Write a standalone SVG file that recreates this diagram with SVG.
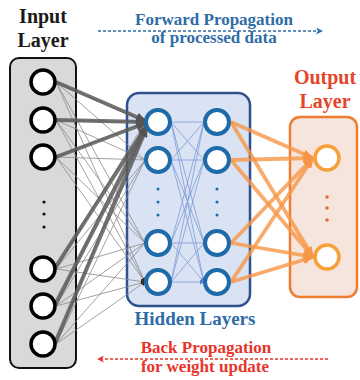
<svg xmlns="http://www.w3.org/2000/svg" width="360" height="380" viewBox="0 0 360 380">
<defs>
<style>
text{font-family:"Liberation Serif","Times New Roman",serif;font-weight:bold;text-anchor:middle}
.in{fill:#fff;stroke:#000;stroke-width:3.5}
.hn{fill:#fff;stroke:#1f6aa8;stroke-width:4}
.on{fill:#fff;stroke:#f7a03a;stroke-width:3.5}
.thin{stroke:#8a8a8a;stroke-width:0.8;fill:none;marker-end:url(#at)}
.thick{stroke:#5a5a5a;stroke-width:4;stroke-opacity:0.85;fill:none;marker-end:url(#ag)}
.blue{stroke:#7f9bd6;stroke-width:0.8;fill:none;marker-end:url(#ab)}
.or{stroke:#f79646;stroke-width:3.8;stroke-opacity:0.8;fill:none;marker-end:url(#ao)}
</style>
<marker id="ag" markerWidth="11" markerHeight="9" refX="10" refY="4.5" orient="auto" markerUnits="userSpaceOnUse"><path d="M0,0 L11,4.5 L0,9 z" fill="#555"/></marker>
<marker id="at" markerWidth="5" markerHeight="5" refX="4" refY="2.5" orient="auto" markerUnits="userSpaceOnUse"><path d="M0,0 L5,2.5 L0,5 z" fill="#333"/></marker>
<marker id="ab" markerWidth="5" markerHeight="5" refX="4" refY="2.5" orient="auto" markerUnits="userSpaceOnUse"><path d="M0,0 L5,2.5 L0,5 z" fill="#5b7fcf"/></marker>
<marker id="ao" markerWidth="11" markerHeight="9" refX="10" refY="4.5" orient="auto" markerUnits="userSpaceOnUse"><path d="M0,0 L11,4.5 L0,9 z" fill="#f79646"/></marker>
<marker id="afb" markerWidth="7" markerHeight="7" refX="6" refY="3.5" orient="auto" markerUnits="userSpaceOnUse"><path d="M0,0 L7,3.5 L0,7 L2,3.5 z" fill="#2e6ca6"/></marker>
<marker id="afr" markerWidth="7" markerHeight="7" refX="6" refY="3.5" orient="auto" markerUnits="userSpaceOnUse"><path d="M0,0 L7,3.5 L0,7 L2,3.5 z" fill="#e8342a"/></marker>
</defs>

<g id="titles">
<text x="214" y="25" font-size="17" fill="#2e6ca6">Forward Propagation</text>
<text x="214" y="43" font-size="17" fill="#2e6ca6">of processed data</text>
<text x="206" y="353" font-size="17" fill="#e8342a">Back Propagation</text>
<text x="205" y="372" font-size="17" fill="#e8342a">for weight update</text>
</g>

<g id="input-layer">
<rect x="10" y="58" width="66" height="310" rx="9" fill="#d9d9d9" stroke="#111" stroke-width="2"/>
<text x="43" y="23" font-size="20" fill="#1a1a1a">Input</text>
<text x="43" y="47" font-size="20" fill="#1a1a1a">Layer</text>
</g>

<g id="hidden-layer">
<rect x="127" y="93" width="123" height="213" rx="12" fill="#dae3f3" stroke="#2f528f" stroke-width="2.5"/>
<text x="195" y="325" font-size="19" fill="#2e6ca6">Hidden Layers</text>
</g>

<g id="output-layer">
<rect x="290" y="117" width="67" height="180" rx="10" fill="#f5e5dd" stroke="#ee7d31" stroke-width="2.5"/>
<text x="325" y="84" font-size="20" fill="#e4452a">Output</text>
<text x="325" y="108" font-size="20" fill="#e4452a">Layer</text>
</g>

<g id="connectors">
<line x1="98" y1="31" x2="322" y2="31" stroke="#2e6ca6" stroke-width="1.3" stroke-dasharray="3,2" marker-end="url(#afb)"/>
<line x1="328" y1="359" x2="98" y2="359" stroke="#e8342a" stroke-width="1.3" stroke-dasharray="3,2" marker-end="url(#afr)"/>
<path class="thin" d="M56,82 L145,122 M56,82 L145,160 M56,82 L145,243 M56,82 L145,282"/>
<path class="thin" d="M56,120 L145,122 M56,120 L145,160 M56,120 L145,243 M56,120 L145,282"/>
<path class="thin" d="M56,157 L145,122 M56,157 L145,160 M56,157 L145,243 M56,157 L145,282"/>
<path class="thin" d="M56,269 L145,122 M56,269 L145,160 M56,269 L145,243 M56,269 L145,282"/>
<path class="thin" d="M56,306 L145,122 M56,306 L145,160 M56,306 L145,243 M56,306 L145,282"/>
<path class="thin" d="M56,344 L145,122 M56,344 L145,160 M56,344 L145,243 M56,344 L145,282"/>
<line class="thick" x1="56" y1="82" x2="146" y2="121"/>
<line class="thick" x1="56" y1="120" x2="146" y2="122"/>
<line class="thick" x1="56" y1="157" x2="146" y2="123"/>
<line class="thick" x1="55" y1="268" x2="147" y2="125"/>
<line class="thick" x1="55" y1="305" x2="147" y2="126"/>
<line class="thick" x1="55" y1="343" x2="147" y2="127"/>
<path class="blue" d="M171,122 L204,122 M171,122 L204,160 M171,122 L204,243 M171,122 L204,282"/>
<path class="blue" d="M171,160 L204,122 M171,160 L204,160 M171,160 L204,243 M171,160 L204,282"/>
<path class="blue" d="M171,243 L204,122 M171,243 L204,160 M171,243 L204,243 M171,243 L204,282"/>
<path class="blue" d="M171,282 L204,122 M171,282 L204,160 M171,282 L204,243 M171,282 L204,282"/>
<line class="or" x1="231" y1="122" x2="313" y2="158"/>
<line class="or" x1="231" y1="160" x2="313" y2="158"/>
<line class="or" x1="231" y1="243" x2="313" y2="158"/>
<line class="or" x1="231" y1="282" x2="313" y2="158"/>
<line class="or" x1="231" y1="122" x2="313" y2="257"/>
<line class="or" x1="231" y1="160" x2="313" y2="257"/>
<line class="or" x1="231" y1="243" x2="313" y2="257"/>
<line class="or" x1="231" y1="282" x2="313" y2="257"/>
</g>

<g id="input-nodes">
<circle class="in" cx="43" cy="82" r="12"/>
<circle class="in" cx="43" cy="120" r="12"/>
<circle class="in" cx="43" cy="157" r="12"/>
<circle cx="44" cy="202" r="1.6" fill="#111"/>
<circle cx="44" cy="214" r="1.6" fill="#111"/>
<circle cx="44" cy="227" r="1.6" fill="#111"/>
<circle class="in" cx="43" cy="269" r="12"/>
<circle class="in" cx="43" cy="306" r="12"/>
<circle class="in" cx="43" cy="344" r="12"/>
</g>

<g id="hidden-nodes">
<circle class="hn" cx="158" cy="122" r="12"/>
<circle class="hn" cx="158" cy="160" r="12"/>
<circle class="hn" cx="158" cy="243" r="12"/>
<circle class="hn" cx="158" cy="282" r="12"/>
<circle class="hn" cx="217" cy="122" r="12"/>
<circle class="hn" cx="217" cy="160" r="12"/>
<circle class="hn" cx="217" cy="243" r="12"/>
<circle class="hn" cx="217" cy="282" r="12"/>
<circle cx="158" cy="189" r="1.5" fill="#1f6aa8"/>
<circle cx="158" cy="202" r="1.5" fill="#1f6aa8"/>
<circle cx="158" cy="215" r="1.5" fill="#1f6aa8"/>
<circle cx="217" cy="189" r="1.5" fill="#1f6aa8"/>
<circle cx="217" cy="202" r="1.5" fill="#1f6aa8"/>
<circle cx="217" cy="215" r="1.5" fill="#1f6aa8"/>
</g>

<g id="output-nodes">
<circle class="on" cx="327" cy="158" r="12"/>
<circle class="on" cx="327" cy="257" r="12"/>
<circle cx="327" cy="197" r="1.8" fill="#e06a3a"/>
<circle cx="327" cy="208" r="1.8" fill="#e06a3a"/>
<circle cx="327" cy="220" r="1.8" fill="#e06a3a"/>
</g>
</svg>
